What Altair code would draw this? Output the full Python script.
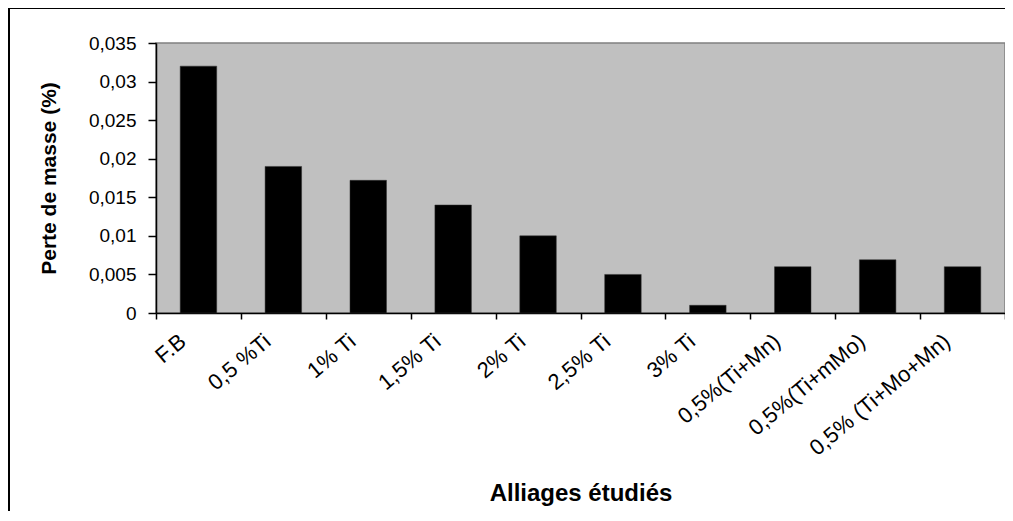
import altair as alt
import pandas as pd

categories = ["F.B", "0,5 %Ti", "1% Ti", "1,5% Ti", "2% Ti", "2,5% Ti", "3% Ti",
              "0,5%(Ti+Mn)", "0,5%(Ti+mMo)", "0,5% (Ti+Mo+Mn)"]
values = [0.032, 0.019, 0.0172, 0.014, 0.010, 0.005, 0.001, 0.006, 0.0069, 0.006]
y_ticks = [0, 0.005, 0.01, 0.015, 0.02, 0.025, 0.03, 0.035]

df = pd.DataFrame({"cat": categories, "val": values})
FONT = "Liberation Sans"

bars = alt.Chart(df).mark_bar(color="black", stroke="#333333", strokeWidth=0.5,
                              width=alt.RelativeBandSize(0.43)).encode(
    x=alt.X("cat:N", sort=categories,
            scale=alt.Scale(paddingInner=0, paddingOuter=0),
            axis=alt.Axis(title="Alliages étudiés", labelAngle=-40, labelAlign="right",
                          labelBaseline="middle", labelOffset=-16, labelPadding=19,
                          labelFontSize=22, labelFont=FONT, labelColor="black",
                          tickBand="extent", tickSize=6, tickColor="black", tickWidth=1.5,
                          domainColor="black", domainWidth=1.5,
                          titleFont=FONT, titleFontSize=24, titleFontWeight="bold",
                          titleColor="black", titleY=187, titleBaseline="alphabetic",
                          labelOverlap=False, labelLimit=300)),
    y=alt.Y("val:Q", scale=alt.Scale(domain=[0, 0.035], nice=False),
            axis=alt.Axis(title="Perte de masse (%)", values=y_ticks,
                          labelExpr="replace(format(datum.value, '.3~f'), '.', ',')",
                          labelFontSize=19, labelFont=FONT, labelColor="black",
                          labelPadding=12, tickSize=8, tickColor="black", tickWidth=1.5,
                          domainColor="black", domainWidth=1.5, grid=False,
                          titleFont=FONT, titleFontSize=21, titleFontWeight="bold",
                          titleColor="black", titleX=-107, titleY=135, titleAngle=-90,
                          titleAlign="center", titleBaseline="middle")),
)

frame = alt.Chart(pd.DataFrame({"a": [0]})).mark_rect(
    fill="transparent", stroke="black", strokeWidth=2
).encode(
    x=alt.value(-147), x2=alt.value(950),
    y=alt.value(-35), y2=alt.value(600),
)

chart = alt.layer(bars, frame).properties(
    width=849, height=270,
    autosize=alt.AutoSizeParams(type="none"),
    padding={"left": 148, "top": 35, "right": 0, "bottom": 198},
).configure_view(
    fill="#C0C0C0", stroke="#808080", strokeWidth=1.5
)

chart.save("out.html", embed_options={"renderer": "svg", "actions": False})
